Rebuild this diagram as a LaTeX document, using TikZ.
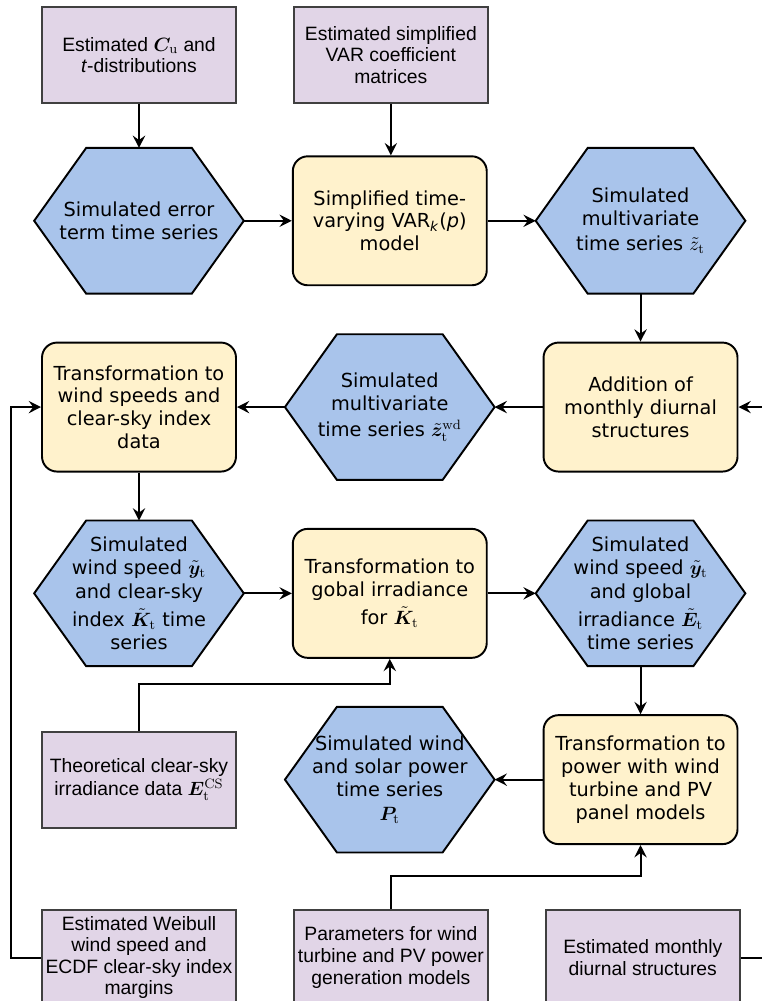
\documentclass[tikz,border=0pt]{standalone}
\usepackage{amsmath,amssymb,bm}
\usepackage{fontspec}
\usepackage{tikz}
\usetikzlibrary{positioning,arrows.meta,backgrounds}
\usepackage{xcolor}
\newfontfamily\arial{Liberation Sans}
\newfontfamily\verd{DejaVu Sans}
\definecolor{datafill}{HTML}{E1D5E7}
\definecolor{procfill}{HTML}{FFF2CC}
\definecolor{simfill}{HTML}{A9C4EB}
\newcommand{\tsub}[1]{_{\mathrm{#1}}}
\newcommand{\hexfont}{\verd\fontsize{11}{13}\selectfont}

\begin{document}
\begin{tikzpicture}[x=0.02cm, y=-0.02cm,
  data/.style={draw=black!75, fill=datafill, line width=1.1pt, minimum width=3.88cm,
               minimum height=1.92cm, inner sep=0pt, align=center,
               font=\arial\fontsize{11}{12.3}\selectfont},
  proc/.style={draw=black, fill=procfill, line width=1.1pt, rounded corners=0.3cm,
               minimum width=3.88cm, minimum height=2.58cm, inner sep=1pt, align=center,
               font=\hexfont},
  hexline/.style={draw=black, fill=simfill, line width=1.1pt, line join=miter},
  sim/.style={minimum width=4.18cm, minimum height=2.9cm, inner sep=0pt, align=center,
              font=\hexfont,
              append after command={\pgfextra{\begin{pgfonlayer}{background}
                \path[hexline] (\tikzlastnode.west) -- ([xshift=1.04cm]\tikzlastnode.north west)
                  -- ([xshift=-1.04cm]\tikzlastnode.north east) -- (\tikzlastnode.east)
                  -- ([xshift=-1.04cm]\tikzlastnode.south east)
                  -- ([xshift=1.04cm]\tikzlastnode.south west) -- cycle;
              \end{pgfonlayer}}}},
  arr/.style={-{Stealth[length=7pt,width=7pt,inset=2.5pt]}, line width=1.1pt}]
\useasboundingbox (0,0) rectangle (761,1001);
\node[data] (ecu) at (139,55) {Estimated $\bm{C}\tsub{u}$ and\\ \textit{t}-distributions};
\node[data, right=1.12cm of ecu] (evar) {Estimated simplified\\VAR coefficient\\matrices};
\node[sim, below=0.88cm of ecu] (err) {Simulated error\\term time series};
\node[proc, right=0.96cm of err] (var) {Simplified time-\\varying VAR\textsubscript{\textit{k}}(\textit{p})\\model};
\node[sim, right=0.96cm of var] (ztil) {Simulated\\multivariate\\[1pt]time series $\tilde{z}\tsub{t}$};
\node[proc, below=0.96cm of ztil] (add) {Addition of\\monthly diurnal\\structures};
\node[sim, left=0.96cm of add] (zwd) {Simulated\\multivariate\\[2pt]time series $\tilde{\bm{z}}\tsub{t}^{\mathrm{wd}}$};
\node[proc, left=0.96cm of zwd] (tws) {Transformation to\\wind speeds and\\clear-sky index\\data};
\node[sim, below=0.96cm of tws] (wsk) {Simulated\\wind speed $\tilde{\bm{y}}\tsub{t}$\\[1pt]and clear-sky\\[3pt]index $\tilde{\bm{K}}\tsub{t}$ time\\series};
\node[proc, right=0.96cm of wsk] (tirr) {Transformation to\\gobal irradiance\\[3pt]for $\tilde{\bm{K}}\tsub{t}$};
\node[sim, right=0.96cm of tirr] (wse) {Simulated\\wind speed $\tilde{\bm{y}}\tsub{t}$\\[1pt]and global\\[3pt]irradiance $\tilde{\bm{E}}\tsub{t}$\\time series};
\node[proc, below=0.96cm of wse] (tpow) {Transformation to\\power with wind\\turbine and PV\\panel models};
\node[sim, left=0.96cm of tpow] (pow) {Simulated wind\\and solar power\\time series\\[1pt]$\bm{P}\tsub{t}$};
\node[data, left=0.96cm of pow] (ecs) {Theoretical clear-sky\\[1pt]irradiance data $\bm{E}\tsub{t}^{\mathrm{CS}}$};
\node[data, below=1.6cm of ecs] (weib) {Estimated Weibull\\wind speed and\\ECDF clear-sky index\\margins};
\node[data, right=1.12cm of weib] (par) {Parameters for wind\\turbine and PV power\\generation models};
\node[data, right=1.12cm of par] (mon) {Estimated monthly\\diurnal structures};
\draw[arr] (ecu) -- (err); \draw[arr] (evar) -- (evar |- var.north);
\draw[arr] (err) -- (var); \draw[arr] (var) -- (ztil);
\draw[arr] (ztil) -- (add); \draw[arr] (add) -- (zwd);
\draw[arr] (zwd) -- (tws); \draw[arr] (tws) -- (wsk);
\draw[arr] (wsk) -- (tirr); \draw[arr] (tirr) -- (wse);
\draw[arr] (wse) -- (tpow); \draw[arr] (tpow) -- (pow);
\draw[arr] (ecs.north) -- ++(0,0.94cm) -| (tirr.south);
\draw[arr] (par.north) -- ++(0,0.66cm) -| (tpow.south);
\draw[arr] (weib.west) -- ++(-0.6cm,0) |- (tws.west);
\draw[arr] (mon.east) -- ++(1cm,0) |- (add.east);
\end{tikzpicture}
\end{document}
